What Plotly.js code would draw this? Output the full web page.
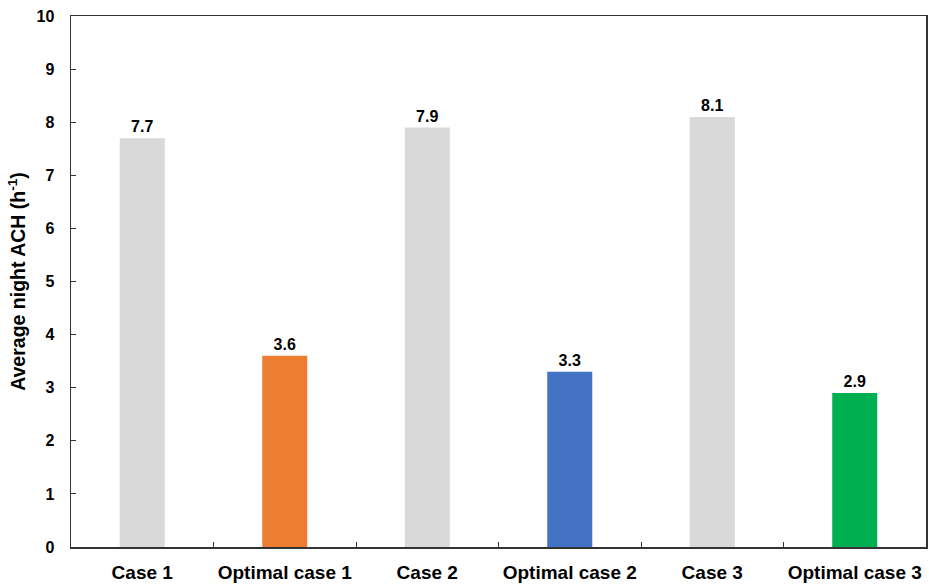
<!DOCTYPE html>
<html>
<head>
<meta charset="utf-8">
<script src="https://cdn.plot.ly/plotly-3.0.1.min.js"></script>
<style>html,body{margin:0;padding:0;background:#fff;}#chart{width:929px;height:584px;}</style>
</head>
<body>
<div id="chart"></div>
<script>
// Average night air change rate per scenario
const categories = ["Case 1", "Optimal case 1", "Case 2", "Optimal case 2", "Case 3", "Optimal case 3"];
const achValues = [7.7, 3.6, 7.9, 3.3, 8.1, 2.9];
const barColors = ["#D9D9D9", "#ED7D31", "#D9D9D9", "#4472C4", "#D9D9D9", "#00B050"];
const yTicks = [0, 1, 2, 3, 4, 5, 6, 7, 8, 9, 10];

const font = "Arial, 'Liberation Sans', sans-serif";

const trace = {
  type: "bar",
  x: categories,
  y: achValues,
  marker: { color: barColors, line: { width: 0 } },
  text: achValues.map(v => v.toFixed(1)),
  textposition: "outside",
  textfont: { family: font, size: 16, color: "#000", weight: "bold" },
  cliponaxis: false,
  hoverinfo: "x+y"
};

const layout = {
  width: 929,
  height: 584,
  margin: { l: 71, r: 3, t: 16, b: 37 },
  paper_bgcolor: "#fff",
  plot_bgcolor: "#fff",
  bargap: 0.684,
  showlegend: false,
  font: { family: font, color: "#000" },
  xaxis: {
    type: "category",
    showline: true,
    linecolor: "#333",
    linewidth: 1.5,
    mirror: true,
    ticks: "inside",
    tickson: "boundaries",
    ticklen: 5,
    tickcolor: "#333",
    tickangle: 0,
    automargin: false,
    ticklabelstandoff: 8,
    tickfont: { family: font, size: 19, color: "#000", weight: "bold" },
    showgrid: false,
    zeroline: false
  },
  yaxis: {
    range: [0, 10],
    tickvals: yTicks,
    showline: true,
    linecolor: "#333",
    linewidth: 1.5,
    mirror: true,
    ticks: "inside",
    ticklen: 5,
    tickcolor: "#333",
    ticklabelstandoff: 12,
    tickfont: { family: font, size: 16, color: "#000", weight: "bold" },
    showgrid: false,
    zeroline: false,
    title: {
      text: "Average night ACH (h<sup>-1</sup>)",
      font: { family: font, size: 19.5, color: "#000", weight: "bold" },
      standoff: 5
    }
  }
};

Plotly.newPlot("chart", [trace], layout, { displayModeBar: false, staticPlot: true });
</script>
</body>
</html>
